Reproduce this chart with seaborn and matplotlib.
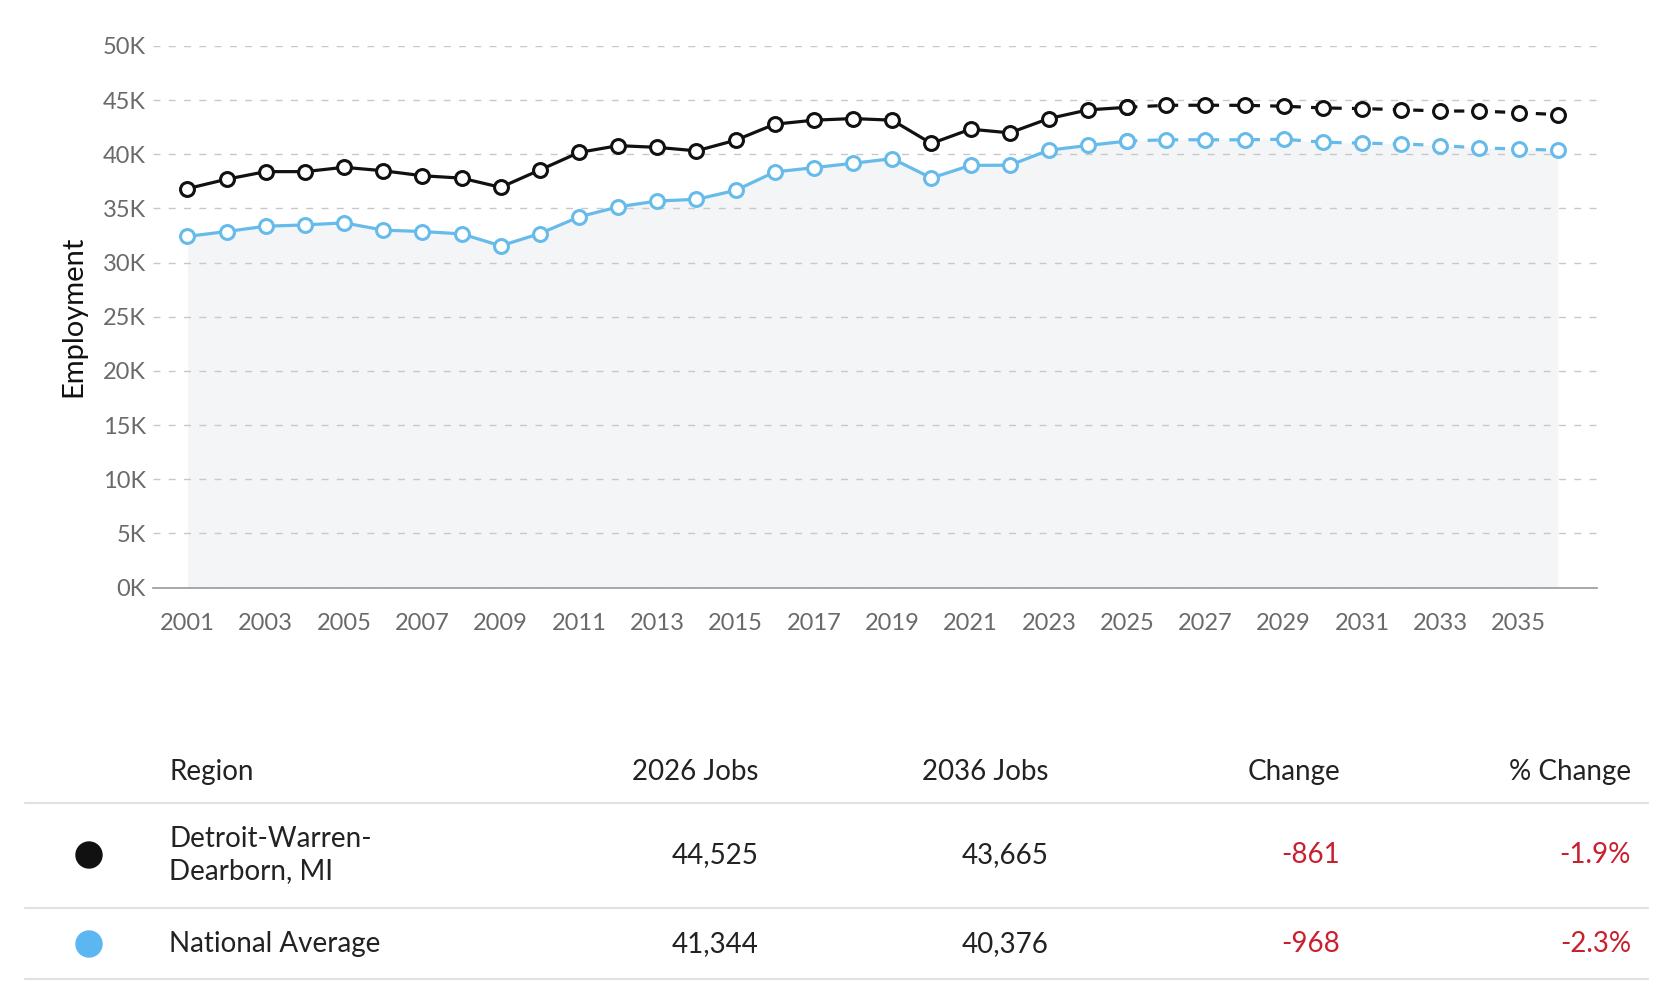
import matplotlib
matplotlib.use("Agg")
import matplotlib.pyplot as plt
import pandas as pd
import seaborn as sns
from matplotlib.lines import Line2D
from matplotlib.patches import Circle
from matplotlib.ticker import FuncFormatter, MultipleLocator

# ---- data ----
years = list(range(2001, 2037))
detroit = [36830, 37700, 38400, 38400, 38800, 38480, 38020, 37800, 36950, 38550,
           40170, 40800, 40640, 40320, 41300, 42780, 43150, 43300, 43150, 41000,
           42320, 41980, 43300, 44100, 44340, 44525, 44530, 44520, 44440, 44280,
           44220, 44120, 44000, 43990, 43840, 43665]
national = [32420, 32870, 33360, 33480, 33670, 33000, 32870, 32650, 31550, 32680,
            34220, 35150, 35690, 35840, 36670, 38370, 38770, 39170, 39600, 37810,
            38980, 38990, 40380, 40820, 41220, 41344, 41340, 41340, 41390, 41120,
            41030, 40960, 40810, 40590, 40490, 40376]
last_actual = 2025

table_cols = ["Region", "2026 Jobs", "2036 Jobs", "Change", "% Change"]
regions = ["Detroit-Warren-\nDearborn, MI", "National Average"]
jobs_2026 = ["44,525", "41,344"]
jobs_2036 = ["43,665", "40,376"]
change = ["-861", "-968"]
pct_change = ["-1.9%", "-2.3%"]

BLACK = "#111111"
BLUE = "#66bbea"
DOT_BLUE = "#5cb6f2"
RED = "#c8202f"

sns.set_style("white")
plt.rcParams["font.family"] = ["Lato", "DejaVu Sans"]

df = pd.DataFrame({"year": years, "detroit": detroit, "national": national})
hist = df[df["year"] <= last_actual]
proj = df[df["year"] >= last_actual]

fig = plt.figure(figsize=(16.78, 10), dpi=100)
ax = fig.add_axes([0.0912, 0.4125, 0.8605, 0.5415])

ax.fill_between(df["year"], 0, df["national"], color="#f3f5f7", zorder=0, linewidth=0)

for col, color in [("national", BLUE), ("detroit", BLACK)]:
    style = dict(color=color, linewidth=2.3, marker="o", markersize=10,
                 markerfacecolor="white", markeredgecolor=color,
                 markeredgewidth=2.2, ax=ax, zorder=3)
    sns.lineplot(data=hist, x="year", y=col, **style)
    sns.lineplot(data=proj, x="year", y=col, dashes=False, linestyle=(0, (3.2, 3.2)), **style)

ax.set_xlim(2000.12, 2037.0)
ax.set_ylim(0, 50000)
ax.yaxis.set_major_locator(MultipleLocator(5000))
ax.yaxis.set_major_formatter(FuncFormatter(lambda v, p: f"{int(v / 1000)}K"))
ax.set_xticks(list(range(2001, 2036, 2)))
ax.grid(axis="y", color="#c8c8c8", linestyle=(0, (5, 6)), linewidth=1.0, zorder=1)
ax.grid(axis="x", visible=False)
for s in ["top", "right", "left"]:
    ax.spines[s].set_visible(False)
ax.spines["bottom"].set_color("#999999")
ax.spines["bottom"].set_linewidth(1.2)
ax.tick_params(axis="y", length=0, pad=5, labelsize=17, labelcolor="#6a6a6a")
ax.tick_params(axis="x", length=0, pad=18, labelsize=17, labelcolor="#6a6a6a")
ax.set_xlabel("")
ax.set_ylabel("Employment", fontsize=21, color="#111111")
ax.yaxis.set_label_coords(-0.046, 0.5)

# ---- summary table below the chart ----
W, H = 1678, 1000


def fx(px):
    return px / W


def fy(py):
    return 1 - py / H


col_x = [169, 759, 1049, 1340, 1631]
col_ha = ["left", "right", "right", "right", "right"]
header_y = 772
row_y = [855, 944]
line_y = [803, 908, 979]
fs = 20

for x, ha, label in zip(col_x, col_ha, table_cols):
    fig.text(fx(x), fy(header_y), label, ha=ha, va="center", fontsize=fs, color="#222222")

for ly in line_y:
    fig.add_artist(Line2D([fx(25), fx(1648)], [fy(ly), fy(ly)], color="#e2e2e2", linewidth=1.6))

dot_colors = [BLACK, DOT_BLUE]
for i, ry in enumerate(row_y):
    fig.add_artist(Circle((89 / 100, (H - ry) / 100), radius=0.13, color=dot_colors[i],
                          transform=fig.dpi_scale_trans))
    fig.text(fx(col_x[0]), fy(ry), regions[i], ha="left", va="center", fontsize=fs,
             color="#222222", linespacing=1.3)
    fig.text(fx(col_x[1]), fy(ry), jobs_2026[i], ha="right", va="center", fontsize=fs, color="#222222")
    fig.text(fx(col_x[2]), fy(ry), jobs_2036[i], ha="right", va="center", fontsize=fs, color="#222222")
    fig.text(fx(col_x[3]), fy(ry), change[i], ha="right", va="center", fontsize=fs, color=RED)
    fig.text(fx(col_x[4]), fy(ry), pct_change[i], ha="right", va="center", fontsize=fs, color=RED)

fig.savefig("out.png", dpi=100)
plt.close(fig)
